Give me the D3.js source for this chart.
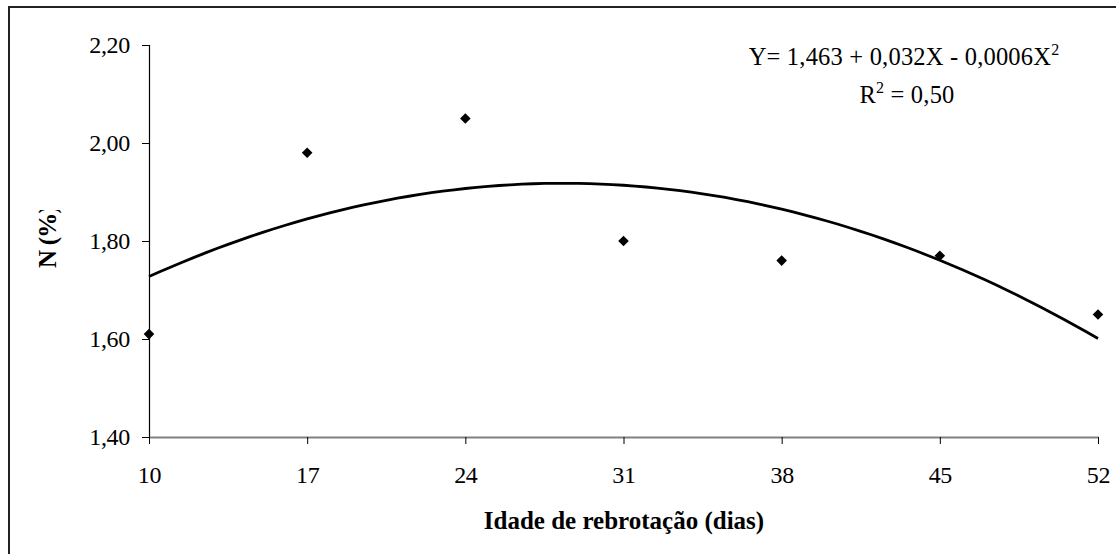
<!DOCTYPE html>
<html>
<head>
<meta charset="utf-8">
<script src="https://cdn.jsdelivr.net/npm/d3@7"></script>
<style>
  html, body { margin: 0; padding: 0; background: #fff; }
  svg { display: block; font-family: "Liberation Serif", "Times New Roman", serif; }
</style>
</head>
<body>
<svg id="chart" width="1116" height="554"></svg>
<script>
// observed N (%) by regrowth age
const idade = [10, 17, 24, 31, 38, 45, 52];
const nPct = [1.61, 1.98, 2.05, 1.80, 1.76, 1.77, 1.65];
const xTicks = [10, 17, 24, 31, 38, 45, 52];
const yTicks = [1.40, 1.60, 1.80, 2.00, 2.20];

const svg = d3.select('#chart');

// outer frame (only left/top visible in the picture)
svg.append('rect')
    .attr('x', 9).attr('y', 7)
    .attr('width', 1200).attr('height', 700)
    .attr('fill', 'none')
    .attr('stroke', '#222')
    .attr('stroke-width', 2);

const x = d3.scaleLinear().domain([10, 52]).range([149, 1098]);
const y = d3.scaleLinear().domain([1.4, 2.2]).range([437, 45]);

const fmt = v => d3.format('.2f')(v).replace('.', ',');

// y axis
const yAxis = svg.append('g')
    .attr('transform', 'translate(149,0)')
    .call(d3.axisLeft(y).tickValues(yTicks).tickSize(7).tickPadding(12).tickFormat(fmt));
yAxis.select('.domain').attr('stroke', '#000').attr('stroke-width', 1.2);
yAxis.selectAll('.tick line').attr('stroke', '#000');
yAxis.selectAll('text')
    .attr('font-family', '"Liberation Serif", serif')
    .attr('font-size', 24)
    .attr('fill', '#000')
    .attr('dy', '0.33em')
    .attr('letter-spacing', -0.3);

// x axis
const xAxis = svg.append('g')
    .attr('transform', 'translate(0,437)')
    .call(d3.axisBottom(x).tickValues(xTicks).tickSize(7).tickSizeOuter(0).tickPadding(27).tickFormat(d3.format('d')));
xAxis.select('.domain').attr('stroke', '#808080').attr('stroke-width', 2);
xAxis.selectAll('.tick line').attr('stroke', '#000');
xAxis.selectAll('text')
    .attr('font-family', '"Liberation Serif", serif')
    .attr('font-size', 24)
    .attr('fill', '#000')
    .attr('dy', '0.5em')
    .attr('letter-spacing', -0.3);

// quadratic least-squares trend line
function quadFit(xs, ys) {
    let s = [0, 0, 0, 0, 0], t = [0, 0, 0];
    xs.forEach((xi, i) => {
        for (let k = 0; k < 5; k++) s[k] += Math.pow(xi, k);
        for (let k = 0; k < 3; k++) t[k] += ys[i] * Math.pow(xi, k);
    });
    const A = [[s[0], s[1], s[2], t[0]], [s[1], s[2], s[3], t[1]], [s[2], s[3], s[4], t[2]]];
    for (let c = 0; c < 3; c++) {
        for (let r = c + 1; r < 3; r++) {
            const f = A[r][c] / A[c][c];
            for (let k = c; k < 4; k++) A[r][k] -= f * A[c][k];
        }
    }
    const b = [0, 0, 0];
    for (let r = 2; r >= 0; r--) {
        let v = A[r][3];
        for (let k = r + 1; k < 3; k++) v -= A[r][k] * b[k];
        b[r] = v / A[r][r];
    }
    return b;
}
const coef = quadFit(idade, nPct);
const trend = d3.range(10, 52.01, 0.5).map(d => [d, coef[0] + coef[1] * d + coef[2] * d * d]);

svg.append('path')
    .datum(trend)
    .attr('fill', 'none')
    .attr('stroke', '#000')
    .attr('stroke-width', 2.8)
    .attr('d', d3.line().x(d => x(d[0])).y(d => y(d[1])));

// points
svg.append('g').selectAll('path')
    .data(idade)
    .join('path')
    .attr('transform', (d, i) => `translate(${x(d)},${y(nPct[i])}) rotate(45)`)
    .attr('d', d3.symbol(d3.symbolSquare, 56))
    .attr('fill', '#000');

// equation
const eq = svg.append('text')
    .attr('x', 904).attr('y', 65)
    .attr('text-anchor', 'middle')
    .attr('font-size', 24.5)
    .attr('letter-spacing', 0.2);
eq.append('tspan').text('Y= 1,463 + 0,032X - 0,0006X');
eq.append('tspan').attr('font-size', 16).attr('dy', -10).text('2');

const r2 = svg.append('text')
    .attr('x', 907).attr('y', 103)
    .attr('text-anchor', 'middle')
    .attr('font-size', 24.5)
    .attr('letter-spacing', 0.2);
r2.append('tspan').text('R');
r2.append('tspan').attr('font-size', 16).attr('dy', -10).text('2');
r2.append('tspan').attr('dy', 10).text(' = 0,50');

// axis titles
svg.append('text')
    .attr('x', 624).attr('y', 529)
    .attr('text-anchor', 'middle')
    .attr('font-size', 25)
    .attr('font-weight', 'bold')
    .attr('letter-spacing', 0)
    .text('Idade de rebrotação (dias)');

svg.append('clipPath').attr('id', 'yclip')
    .append('rect').attr('x', 0).attr('y', 210).attr('width', 140).attr('height', 120);
svg.append('g')
    .attr('clip-path', 'url(#yclip)')
    .append('text')
    .attr('transform', 'translate(56,268) rotate(-90)')
    .attr('font-size', 25)
    .attr('font-weight', 'bold')
    .attr('letter-spacing', -0.8)
    .text('N (%)');
</script>
</body>
</html>
